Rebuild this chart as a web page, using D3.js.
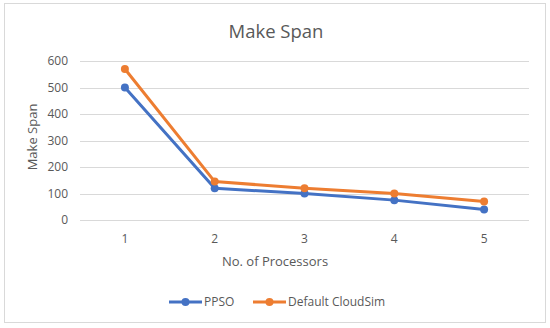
<!DOCTYPE html>
<html>
<head>
<meta charset="utf-8">
<script src="https://cdn.jsdelivr.net/npm/d3@7"></script>
<style>
  body { margin: 0; background: #fff; }
  text { font-family: "Open Sans", "Noto Sans", sans-serif; fill: #595959; }
</style>
</head>
<body>
<svg id="chart" width="550" height="328"></svg>
<script>
// data
const processors = ["1", "2", "3", "4", "5"];
const ppso = [500, 120, 100, 75, 40];
const cloudsim = [570, 145, 120, 100, 70];
const yTicks = [0, 100, 200, 300, 400, 500, 600];

const series = [
    { name: "PPSO", values: ppso, color: "#4472C4" },
    { name: "Default CloudSim", values: cloudsim, color: "#ED7D31" }
];

const svg = d3.select("#chart");

// chart border
svg.append("rect")
    .attr("x", 4.5).attr("y", 3.5)
    .attr("width", 541).attr("height", 319)
    .attr("fill", "#fff")
    .attr("stroke", "#D9D9D9");

const x = d3.scaleBand()
    .domain(processors)
    .range([80, 529]);

const y = d3.scaleLinear()
    .domain([0, 600])
    .range([220, 61]);

// gridlines
svg.append("g")
    .selectAll("line")
    .data(yTicks)
    .join("line")
    .attr("x1", 80).attr("x2", 529)
    .attr("y1", d => Math.round(y(d)) + 0.5)
    .attr("y2", d => Math.round(y(d)) + 0.5)
    .attr("stroke", "#D9D9D9");

// y tick labels
svg.append("g")
    .selectAll("text")
    .data(yTicks)
    .join("text")
    .attr("x", 68)
    .attr("y", d => y(d))
    .attr("dy", "0.35em")
    .attr("text-anchor", "end")
    .attr("font-size", 12)
    .text(d => d);

// x tick labels
svg.append("g")
    .selectAll("text")
    .data(processors)
    .join("text")
    .attr("x", d => x(d) + x.bandwidth() / 2)
    .attr("y", 243)
    .attr("text-anchor", "middle")
    .attr("font-size", 12)
    .text(d => d);

// titles
svg.append("text")
    .attr("x", 276).attr("y", 38)
    .attr("text-anchor", "middle")
    .attr("font-size", 18.5)
    .text("Make Span");

svg.append("text")
    .attr("x", 275).attr("y", 266)
    .attr("text-anchor", "middle")
    .attr("font-size", 13)
    .text("No. of Processors");

svg.append("text")
    .attr("transform", "translate(37,137) rotate(-90)")
    .attr("text-anchor", "middle")
    .attr("font-size", 13)
    .text("Make Span");

// lines and markers
const line = d3.line()
    .x((d, i) => x(processors[i]) + x.bandwidth() / 2)
    .y(d => y(d));

series.forEach(s => {
    svg.append("path")
        .datum(s.values)
        .attr("d", line)
        .attr("fill", "none")
        .attr("stroke", s.color)
        .attr("stroke-width", 3)
        .attr("stroke-linejoin", "round")
        .attr("stroke-linecap", "round");

    svg.append("g")
        .selectAll("circle")
        .data(s.values)
        .join("circle")
        .attr("cx", (d, i) => x(processors[i]) + x.bandwidth() / 2)
        .attr("cy", d => y(d))
        .attr("r", 4)
        .attr("fill", s.color);
});

// legend
const legendX = [169, 253];
const legend = svg.append("g")
    .selectAll("g")
    .data(series)
    .join("g")
    .attr("transform", (d, i) => `translate(${legendX[i]},302)`);

legend.append("line")
    .attr("x1", 0).attr("x2", 33)
    .attr("stroke", d => d.color)
    .attr("stroke-width", 3);
legend.append("circle")
    .attr("cx", 16.5).attr("r", 4)
    .attr("fill", d => d.color);
legend.append("text")
    .attr("x", 35)
    .attr("dy", "0.35em")
    .attr("font-size", 12)
    .text(d => d.name);
</script>
</body>
</html>
